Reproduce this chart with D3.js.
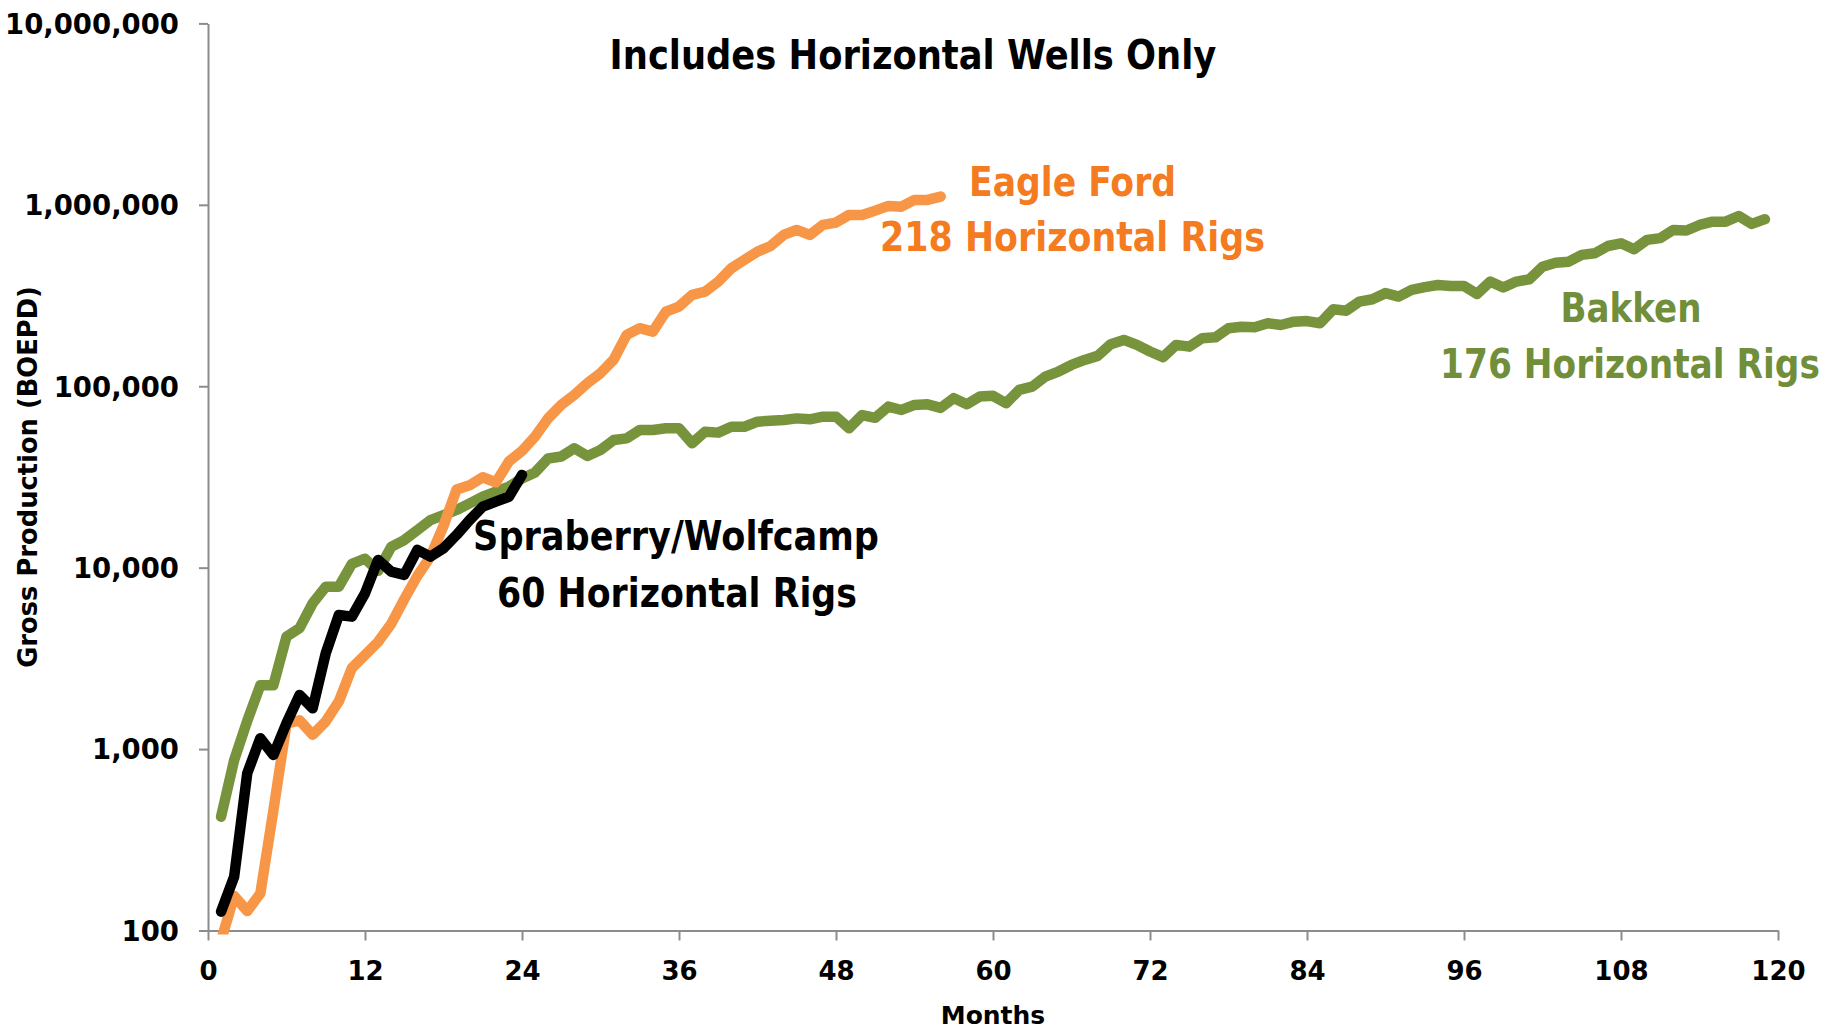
<!DOCTYPE html>
<html>
<head>
<meta charset="utf-8">
<script src="https://cdn.jsdelivr.net/npm/d3@7"></script>
<style>
  html, body { margin: 0; padding: 0; background: #ffffff; }
  svg { display: block; }
  text { font-family: "DejaVu Sans", Verdana, sans-serif; }
</style>
</head>
<body>
<svg id="chart" width="1833" height="1030"></svg>
<script>
// ---- data (month index = position + 1) ----
const eagleFord = [88, 155, 128, 160, 460, 1380, 1440, 1200, 1420, 1830,
  2800, 3300, 3900, 4900, 6700, 9000, 11500, 17000, 27000, 28500,
  31500, 29500, 38500, 44000, 52800, 66600, 78900, 89600, 104000, 118000,
  140000, 192000, 209000, 200000, 258000, 275000, 319000, 332000, 377000, 447000,
  497000, 552000, 593000, 682000, 727000, 682000, 775000, 798000, 880000, 880000,
  929000, 986000, 977000, 1064000, 1064000, 1110000];

const bakken = [424, 870, 1430, 2250, 2250, 4170, 4640, 6370, 7860, 7860,
  10500, 11200, 9600, 13000, 14200, 16100, 18300, 19500, 20800, 22600,
  24600, 26200, 28000, 31000, 33500, 40000, 41000, 45500, 41300, 44500,
  50500, 51600, 57400, 57400, 58700, 58700, 48500, 56200, 55500, 59800,
  59800, 63800, 64600, 65200, 66500, 65700, 68000, 68000, 58700, 69400,
  67000, 77200, 74000, 78900, 79500, 76000, 86000, 79500, 87700, 88500,
  80600, 95400, 99600, 113000, 120500, 131000, 139600, 147000, 170500, 180000,
  169000, 155400, 144600, 169000, 165300, 184000, 186000, 208800, 213000, 211500,
  222400, 217600, 227000, 228700, 222400, 265500, 261000, 292600, 301700, 326000,
  312000, 339600, 352000, 361700, 357000, 357000, 322700, 377500, 350000, 377500,
  388800, 456000, 480000, 486000, 529500, 541000, 593000, 613700, 568700, 641000,
  655000, 727500, 721500, 774500, 807600, 807600, 868000, 784800, 833400];

const spraberry = [127, 198, 736, 1148, 928, 1387, 1986, 1678, 3375, 5480,
  5370, 7220, 11030, 9500, 9120, 12540, 11510, 12800, 15150, 18320,
  21690, 23100, 24600, 32450];

const xTicks = [0, 12, 24, 36, 48, 60, 72, 84, 96, 108, 120];
const yTicks = [100, 1000, 10000, 100000, 1000000, 10000000];

const titleText = "Includes Horizontal Wells Only";
const xTitle = "Months";
const yTitle = "Gross Production (BOEPD)";
const seriesLabels = [
  ["Eagle Ford", "218 Horizontal Rigs"],
  ["Bakken", "176 Horizontal Rigs"],
  ["Spraberry/Wolfcamp", "60 Horizontal Rigs"]
];

// ---- layout ----
const svg = d3.select("#chart");
const pL = 208, pR = 1778, pT = 23.4, pB = 930.5;
const x = d3.scaleLinear().domain([0, 120]).range([pL, pR]);
const y = d3.scaleLog().domain([100, 10000000]).range([pB, pT]);

const axisColor = "#8c8c8c";
const fmt = d3.format(",");

// y axis
const gy = svg.append("g").attr("transform", `translate(${pL},0)`)
  .call(d3.axisLeft(y).tickValues(yTicks).tickFormat(fmt).tickSize(9).tickSizeOuter(0).tickPadding(20));
gy.select(".domain").attr("stroke", axisColor).attr("stroke-width", 2);
gy.selectAll(".tick line").attr("stroke", axisColor).attr("stroke-width", 2);
gy.selectAll(".tick text").attr("font-family", "DejaVu Sans").attr("font-weight", "bold")
  .attr("font-size", 27.5).attr("fill", "#000").attr("dy", "0.36em");

// x axis
const gx = svg.append("g").attr("transform", `translate(0,${pB})`)
  .call(d3.axisBottom(x).tickValues(xTicks).tickSize(10).tickSizeOuter(0));
gx.select(".domain").attr("stroke", axisColor).attr("stroke-width", 2);
gx.selectAll(".tick line").attr("stroke", axisColor).attr("stroke-width", 2);
gx.selectAll(".tick text").attr("font-family", "DejaVu Sans").attr("font-weight", "bold")
  .attr("font-size", 26).attr("fill", "#000").attr("y", 49.5).attr("dy", 0);

// clip
svg.append("defs").append("clipPath").attr("id", "plotclip")
  .append("rect").attr("x", pL).attr("y", 0).attr("width", 1833 - pL).attr("height", pB + 4);

const line = d3.line().x((d, i) => x(i + 1)).y(d => y(d));
const lines = svg.append("g").attr("clip-path", "url(#plotclip)");
const series = [
  { data: bakken, color: "#77933C" },
  { data: eagleFord, color: "#F79646" },
  { data: spraberry, color: "#000000" }
];
series.forEach(s => {
  lines.append("path").datum(s.data).attr("d", line)
    .attr("fill", "none").attr("stroke", s.color).attr("stroke-width", 10.5)
    .attr("stroke-linejoin", "round").attr("stroke-linecap", "round");
});

// text fitted horizontally to a target width (scaled, stays real text)
function fitted(txt, cx, baseline, width, size, color, rotate) {
  const g = svg.append("g");
  const t = g.append("text").attr("x", 0).attr("y", 0).attr("text-anchor", "middle")
    .attr("font-weight", "bold").attr("font-size", size).attr("fill", color).text(txt);
  const natural = t.node().getComputedTextLength();
  const sx = width / natural;
  g.attr("transform", `translate(${cx},${baseline})${rotate ? " rotate(-90)" : ""} scale(${sx},1)`);
}

// axis titles
svg.append("text").attr("x", (pL + pR) / 2).attr("y", 1024)
  .attr("text-anchor", "middle").attr("font-weight", "bold").attr("font-size", 25)
  .attr("fill", "#000").text(xTitle);
fitted(yTitle, 37, (pT + pB) / 2, 382, 26.5, "#000", true);

// title & series labels
fitted(titleText, 913, 69, 607, 40, "#000000");
fitted(seriesLabels[0][0], 1072.5, 196, 207, 40, "#F47B20");
fitted(seriesLabels[0][1], 1072.5, 251, 385, 40, "#F47B20");
fitted(seriesLabels[1][0], 1631, 322, 141, 40, "#718E3A");
fitted(seriesLabels[1][1], 1630, 378, 380, 40, "#718E3A");
fitted(seriesLabels[2][0], 676, 550, 406, 40, "#000000");
fitted(seriesLabels[2][1], 677, 607, 360, 40, "#000000");
</script>
</body>
</html>
